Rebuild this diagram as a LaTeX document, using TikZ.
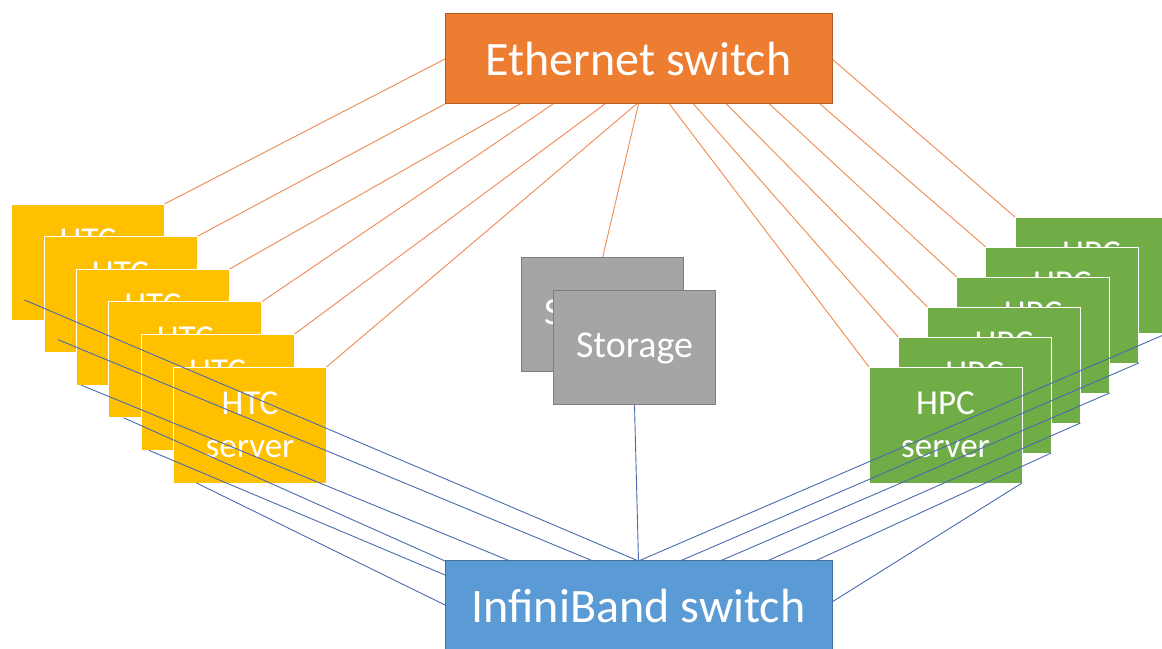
\documentclass[tikz,border=0pt]{standalone}
\usepackage{fontspec}
\newfontfamily\calibri{Carlito}
\usetikzlibrary{positioning, backgrounds}

\definecolor{ethorange}{HTML}{ED7D31}
\definecolor{ethborder}{HTML}{B35D22}
\definecolor{ibblue}{HTML}{5B9BD5}
\definecolor{ibborder}{HTML}{41719C}
\definecolor{htcyellow}{HTML}{FFC000}
\definecolor{hpcgreen}{HTML}{70AD47}
\definecolor{storgray}{HTML}{A5A5A5}
\definecolor{storborder}{HTML}{7F7F7F}
\definecolor{linkorange}{HTML}{EE8A4E}
\definecolor{linkblue}{HTML}{4A6AAF}

\begin{document}
\begin{tikzpicture}[
    x=1pt, y=1pt,
    switch/.style={rectangle, draw, line width=1pt, text=white, minimum width=387pt, minimum height=90pt, inner sep=0pt, outer sep=0pt, font=\calibri\fontsize{48}{58}\selectfont},
    server/.style={rectangle, draw=white, line width=0.8pt, text=white, align=center, minimum width=153pt, minimum height=116pt, inner sep=0pt, outer sep=0pt, font=\calibri\fontsize{35}{43}\selectfont},
    htc/.style={server, fill=htcyellow},
    hpc/.style={server, fill=hpcgreen},
    store/.style={rectangle, draw=storborder, line width=1pt, fill=storgray, text=white, minimum width=162pt, minimum height=114pt, inner sep=0pt, outer sep=0pt, font=\calibri\fontsize{38}{46}\selectfont},
    ethlink/.style={draw=linkorange, line width=0.9pt},
    iblink/.style={draw=linkblue, line width=0.9pt}
]
\useasboundingbox (0,0) rectangle (1162,648);

% Switches
\node[switch, fill=ethorange, draw=ethborder] (eth) at (638.5,589) {Ethernet switch};
\node[switch, fill=ibblue, draw=ibborder, below=457pt of eth] (ib) {InfiniBand switch};

% Storage
\node[store] (stor1) at (602.5,333) {Storage};
\node[store] (stor2) at ([shift={(32,-33)}]stor1) {Storage};

% HTC servers (back to front)
\node[htc] (htc1) at (88,386) {HTC\\server};
\node[htc] (htc2) at ([shift={(32.4,-32.6)}]htc1) {HTC\\server};
\node[htc] (htc3) at ([shift={(32.4,-32.6)}]htc2) {HTC\\server};
\node[htc] (htc4) at ([shift={(32.4,-32.6)}]htc3) {HTC\\server};
\node[htc] (htc5) at ([shift={(32.4,-32.6)}]htc4) {HTC\\server};
\node[htc] (htc6) at ([shift={(32.4,-32.6)}]htc5) {HTC\\server};

% HPC servers (back to front)
\node[hpc] (hpc6) at (1091.5,373) {HPC\\server};
\node[hpc] (hpc5) at ([shift={(-29.2,-30)}]hpc6) {HPC\\server};
\node[hpc] (hpc4) at ([shift={(-29.2,-30)}]hpc5) {HPC\\server};
\node[hpc] (hpc3) at ([shift={(-29.2,-30)}]hpc4) {HPC\\server};
\node[hpc] (hpc2) at ([shift={(-29.2,-30)}]hpc3) {HPC\\server};
\node[hpc] (hpc1) at ([shift={(-29.2,-30)}]hpc2) {HPC\\server};

% Ethernet links
\begin{scope}[on background layer]
\draw[ethlink] (eth.west) -- (htc1.north east);
\draw[ethlink] (eth.south west) -- (htc2.north east);
\draw[ethlink] ([xshift=75pt]eth.south west) -- (htc3.north east);
\draw[ethlink] ([xshift=108pt]eth.south west) -- (htc4.north east);
\draw[ethlink] ([xshift=160pt]eth.south west) -- (htc5.north east);
\draw[ethlink] ([xshift=-2pt]eth.south) -- (htc6.north east);
\draw[ethlink] (eth.south) -- (stor1.north);
\draw[ethlink] ([xshift=31pt]eth.south) -- (hpc1.north west);
\draw[ethlink] ([xshift=55pt]eth.south) -- (hpc2.north west);
\draw[ethlink] ([xshift=88pt]eth.south) -- (hpc3.north west);
\draw[ethlink] ([xshift=131pt]eth.south) -- (hpc4.north west);
\draw[ethlink] ([xshift=-12pt]eth.south east) -- (hpc5.north west);
\draw[ethlink] (eth.east) -- (hpc6.north west);
\end{scope}

% InfiniBand links
\draw[iblink] ([shift={(13,20)}]htc1.south west) -- (ib.north);
\draw[iblink] ([shift={(14,13)}]htc2.south west) -- ([xshift=-45.5pt]ib.north);
\draw[iblink] ([shift={(5,0)}]htc3.south west) -- ([xshift=65pt]ib.north west);
\draw[iblink] ([shift={(15,0)}]htc4.south west) -- (ib.north west);
\draw[iblink] ([shift={(8,0)}]htc5.south west) -- ([yshift=-14pt]ib.north west);
\draw[iblink] ([shift={(23,0)}]htc6.south west) -- ([yshift=-44pt]ib.north west);
\draw[iblink] (stor2.south) -- (ib.north);
\draw[iblink] (hpc6.south east) -- (ib.north);
\draw[iblink] (hpc5.south east) -- ([xshift=41.5pt]ib.north);
\draw[iblink] (hpc4.south east) -- ([xshift=81.5pt]ib.north);
\draw[iblink] (hpc3.south east) -- ([xshift=128.5pt]ib.north);
\draw[iblink] (hpc2.south east) -- ([xshift=-17pt]ib.north east);
\draw[iblink] (hpc1.south east) -- ([yshift=-41pt]ib.north east);

\end{tikzpicture}
\end{document}
